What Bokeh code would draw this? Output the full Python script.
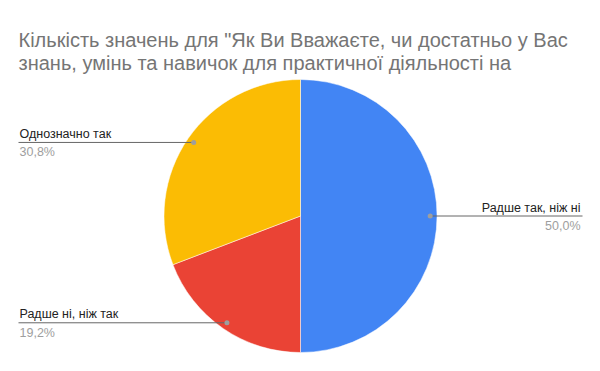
import numpy as np
from bokeh.plotting import figure
from bokeh.models import Range1d
from bokeh.embed import file_html
from bokeh.resources import INLINE
from bokeh.core.properties import value

title_lines = [
    "Кількість значень для \"Як Ви Вважаєте, чи достатньо у Вас",
    "знань, умінь та навичок для практичної діяльності на",
]
categories = ["Радше так, ніж ні", "Радше ні, ніж так", "Однозначно так"]
shares = [50.0, 19.2, 30.8]
pct_labels = ["50,0%", "19,2%", "30,8%"]
colors = ["#4285f4", "#ea4335", "#fbbc04"]

W, H = 600, 371
FONT = "Liberation Sans"

p = figure(width=W, height=H, x_range=Range1d(0, W), y_range=Range1d(0, H),
           output_backend="svg", toolbar_location=None, min_border=0)
p.axis.visible = False
p.grid.visible = False
p.outline_line_color = None
p.background_fill_color = "white"
p.border_fill_color = "white"

cx, cy = 300, H - 215.5
R = 136.5
fracs = np.array(shares) / sum(shares)
cum = np.concatenate([[0.0], np.cumsum(fracs)])
start = np.pi / 2 - 2 * np.pi * cum[:-1]
end = np.pi / 2 - 2 * np.pi * cum[1:]

p.wedge(x=[cx] * len(shares), y=[cy] * len(shares), radius=R, radius_units="screen",
        start_angle=list(start), end_angle=list(end), direction="clock",
        fill_color=colors, line_color="white", line_width=0.5)

mid = (start + end) / 2
dx = cx + 0.95 * R * np.cos(mid)
dy = cy + 0.95 * R * np.sin(mid)

for i in range(len(shares)):
    right = np.cos(mid[i]) > 0
    edge = 582 if right else 18
    tx = 580 if right else 19
    align = "right" if right else "left"
    p.line([dx[i], edge], [dy[i], dy[i]], line_color="#666666", line_width=1)
    p.scatter([dx[i]], [dy[i]], size=5, fill_color="#9e9e9e", line_color=None)
    p.text([tx], [dy[i] + 1.5], text=[categories[i]], text_align=align,
           text_baseline="bottom", text_font=value(FONT), text_font_size="12.5px",
           text_color="#222222")
    p.text([tx], [dy[i] - 3], text=[pct_labels[i]], text_align=align,
           text_baseline="top", text_font=value(FONT), text_font_size="12.5px",
           text_color="#9e9e9e")

title_y = [H - 39, H - 62]
p.text([18, 18], title_y, text=title_lines, text_align="left",
       text_baseline="alphabetic", text_font=value(FONT), text_font_size="20px",
       text_color="#757575")

open("out.html", "w").write(file_html(p, INLINE))
